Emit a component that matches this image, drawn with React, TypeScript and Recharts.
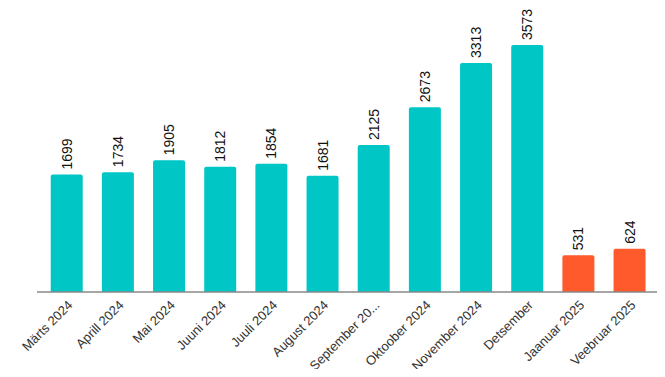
import { BarChart, Bar, XAxis, YAxis, Cell, LabelList } from 'recharts'

const months = [
  'Märts 2024',
  'Aprill 2024',
  'Mai 2024',
  'Juuni 2024',
  'Juuli 2024',
  'August 2024',
  'September 2024',
  'Oktoober 2024',
  'November 2024',
  'Detsember',
  'Jaanuar 2025',
  'Veebruar 2025',
]
const visits = [1699, 1734, 1905, 1812, 1854, 1681, 2125, 2673, 3313, 3573, 531, 624]
const isNewYear = [false, false, false, false, false, false, false, false, false, false, true, true]

const TEAL = '#00C6C6'
const ORANGE = '#FF5A2C'
const FONT = 'Arial, "Liberation Sans", sans-serif'

const data = months.map((m, i) => ({ month: m, visits: visits[i], current: isNewYear[i] }))

const shorten = (s: string) => (s.length > 13 ? s.slice(0, 12) + '...' : s)

function MonthTick({ x, y, payload }: any) {
  return (
    <g transform={`translate(${x + 4},${y + 3})`}>
      <text
        x={0}
        y={0}
        dy={4}
        textAnchor="end"
        transform="rotate(-45)"
        fontSize={13}
        fill="#333"
        fontFamily={FONT}
      >
        {shorten(payload.value)}
      </text>
    </g>
  )
}

function ValueLabel({ x, y, width, value }: any) {
  const cx = x + width / 2
  const cy = y - 5
  return (
    <text
      x={cx}
      y={cy}
      transform={`rotate(-90, ${cx}, ${cy})`}
      textAnchor="start"
      dominantBaseline="central"
      fontSize={14}
      fill="#111"
      fontFamily={FONT}
    >
      {value}
    </text>
  )
}

export default function App() {
  return (
    <div style={{ margin: -8, background: '#fff' }}>
      <BarChart
        width={665}
        height={377}
        data={data}
        margin={{ top: 45, right: 6, left: 37, bottom: 0 }}
        barCategoryGap="19%"
      >
        <XAxis
          dataKey="month"
          interval={0}
          height={85}
          tick={<MonthTick />}
          tickLine={false}
          axisLine={{ stroke: '#888', strokeWidth: 1.5 }}
          padding={{ left: 4, right: 4 }}
        />
        <YAxis hide domain={[0, 'dataMax']} />
        <Bar dataKey="visits" radius={[2, 2, 0, 0]} isAnimationActive={false}>
          {data.map((d, i) => (
            <Cell key={i} fill={d.current ? ORANGE : TEAL} />
          ))}
          <LabelList dataKey="visits" content={<ValueLabel />} />
        </Bar>
      </BarChart>
    </div>
  )
}
